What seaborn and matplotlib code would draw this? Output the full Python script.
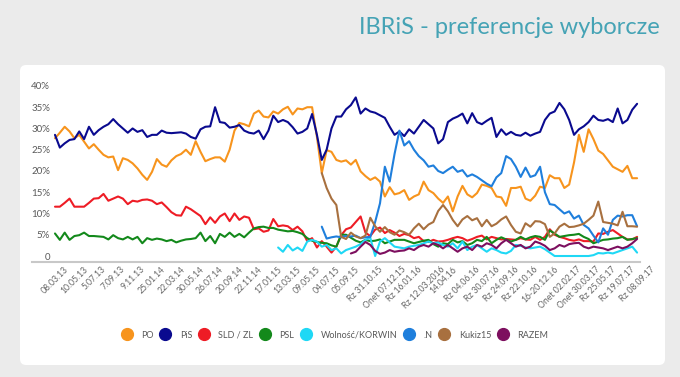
import numpy as np
import pandas as pd
import seaborn as sns
import matplotlib.pyplot as plt
from matplotlib.patches import FancyBboxPatch
from matplotlib.lines import Line2D

nan = np.nan

# tick labels, one every 4th poll
tick_labels = ['08.03.13', '10.05.13', '5.07.13', '7.09.13', '9.11.13', '25.01.14',
               '22.03.14', '30.05.14', '26.07.14', '20.09.14', '22.11.14', '17.01.15',
               '13.03.15', '09.05.15', '04.07.15', '05.09.15', 'Rz 31.10.15',
               'Onet 07.12.15', 'Rz 16.01.16', 'Rz 12.03.2016', '14.04.16',
               'Rz 04.06.16', 'Rz 30.07.16', 'Rz 24.09.16', 'Rz 22.10.16',
               '16-20.12.16', 'Onet 02.02.17', 'Onet 30.03.17', 'Rz 25.05.17',
               'Rz 19.07.17', 'Rz 08.09.17']

po = [27.7, 29, 30.4, 29.3, 27.7, 28.5, 26.9, 25.3, 26.3, 25, 23.8, 23.2, 23.4, 20.2, 23, 22.6, 21.8, 20.6, 19.1, 17.9,
      19.8, 22.8, 21.5, 21, 22.5, 23.5, 24, 25, 23.8, 27, 24.5, 22.3, 22.8, 23.2, 23.2, 22.2, 25, 29.5, 31.3, 31,
      30.5, 33.5, 34.2, 32.8, 32.6, 34, 33.5, 34.5, 35.1, 33.3, 34.7, 34.5, 35, 35, 28, 19.5, 24.9, 24.5, 22.6, 22.2,
      22.5, 21.5, 22.6, 19.9, 18.8, 17.9, 18.5, 17.5, 14, 16.2, 14.5, 14.8, 15.5, 13.2, 14, 14.5, 17.5, 15.5, 14.8, 13.5,
      12.5, 14, 10.5, 14, 16.5, 14.5, 13.8, 14.8, 16.8, 16.5, 16, 14, 13.8, 11.8, 16, 16, 16.3, 13.5, 13, 14.2,
      16.3, 16, 19, 18.3, 18.3, 16, 16.8, 22, 28.5, 24.5, 29.8, 27.5, 24.8, 24, 22.5, 21, 20.4, 19.8, 21.2, 18.3, 18.3]

pis = [28.5, 25.5, 26.5, 27.3, 27.5, 29.3, 27.5, 30.4, 28.5, 29.6, 30.4, 31, 32.2, 31, 30, 29, 30, 29.2, 29.6, 28,
       28.5, 28.5, 29.5, 29, 28.9, 29, 29.1, 28.8, 28, 27.6, 29.8, 30.4, 30.5, 35, 31.5, 31.3, 30.2, 30.4, 30.8, 29.5,
       29, 28.8, 29.5, 27.5, 29.5, 33, 31.5, 32, 31.5, 30.3, 28.8, 29.2, 30, 33.4, 28.5, 22.6, 25, 30, 32.8, 32.8,
       34.5, 35.5, 37.3, 33.5, 34.7, 34, 33.7, 33.1, 32.5, 30.4, 28.5, 29.3, 28.2, 29.8, 28.8, 30.4, 32, 31, 30, 26.5,
       27.5, 31.5, 32.3, 32.8, 33.5, 31.2, 33.6, 31.5, 31, 31.8, 32.5, 28, 29.8, 28.5, 29.2, 28.5, 28.3, 29, 28.3, 28.8,
       29.2, 32, 33.5, 34, 36, 34.5, 32, 28.5, 29.8, 30.5, 31.5, 33, 32, 31.8, 32.2, 31.5, 34.7, 31.2, 32, 34.4, 35.8]

sld = [11.6, 11.6, 12.5, 13.5, 11.6, 11.6, 11.6, 12.5, 13.5, 13.6, 14.6, 13, 13.5, 14, 13.5, 12.2, 13, 12.8, 13.2, 13.3,
       13, 12.2, 12.6, 11.5, 10.3, 9.6, 9.5, 11.6, 11, 10.2, 9.4, 7.5, 9.1, 7.8, 9.3, 10, 8.2, 10, 8.5, 9.3,
       9, 6.3, 6.5, 5.7, 6, 8.7, 7, 7.2, 7, 6.1, 6.9, 5.8, 3.5, 4.2, 2, 3.5, 2.2, 0.8, 2.2, 4.9,
       6.3, 6.7, 8, 9.3, 5.5, 4.7, 6.2, 6.7, 5.4, 6.1, 5.5, 4.7, 5.2, 4.9, 4.2, 4.5, 3.5, 3.3, 3.8, 3.4,
       3.5, 3.8, 4.2, 4.5, 4.2, 3.6, 4, 4.5, 4.8, 3.9, 4.5, 4.2, 3.9, 4, 3.9, 3.8, 4.2, 3.9, 3.8, 4.5,
       3.8, 4.5, 6.3, 5, 4.5, 4.2, 3.8, 3.6, 3.9, 3.5, 3.5, 3.4, 5.3, 5.2, 5.7, 6.1, 5.3, 4.5, 3.9, 3.9, 4.5]

psl = [5.3, 3.8, 5.5, 3.8, 4.7, 4.9, 5.5, 4.7, 4.7, 4.6, 4.5, 3.9, 4.9, 4.2, 3.9, 4.5, 3.9, 4.5, 3, 4.2,
       3.8, 4.1, 3.9, 3.5, 3.8, 3.2, 3.6, 3.9, 4, 4.2, 5.5, 3.5, 4.7, 3, 5.2, 4.5, 5.5, 4.5, 5.2, 4.4,
       5.5, 6.5, 6.8, 6.9, 6.6, 6.6, 6.2, 6, 5.8, 5.9, 5.6, 5.2, 4.2, 3.6, 3.3, 3.1, 3, 2.5, 2.2, 5,
       5, 4.3, 3.6, 3.2, 3.8, 3.5, 3.6, 3.9, 3, 3.4, 3.8, 3.8, 3.8, 3.4, 3, 3.3, 3.6, 3.8, 2.8, 2.2,
       3, 2.8, 3.8, 3.2, 3.5, 2.6, 3, 3.8, 3.5, 4.5, 3, 3.8, 4.4, 3.9, 3.4, 3.8, 4.5, 3.9, 4.4, 4.7,
       4.5, 3.8, 6, 5.3, 4.5, 4.7, 4.9, 5, 5.2, 4.5, 4, 3, 3.4, 3.8, 3.9, 4.1, 4.2, 4.5, 3.8, 4, 4.2]

korwin = [nan] * 46 + [
    2, 1, 2.6, 1.3, 2, 1.2, 3.4, 3.8, 3.4, 2.2, 2.6, 1.4, 1.8, 0.6,
    1.4, 1.8, 2.2, 2.8, 3.8, 4.3, 0, 3.4, 4.2, 3.2, 2.2, 2, 1.8, 2.2, 2.4, 2.6, 3, 3.4, 3, 3.2,
    2.6, 2.2, 3, 1.8, 3.4, 1.4, 2.2, 2.6, 1.8, 1, 1.8, 1.4, 0.8, 0.6, 1.2, 2.6, 2.4, 2, 1.8, 2,
    2.2, 1.6, 0.8, 0, 0, 0, 0, 0, 0, 0, 0, 0.2, 0.7, 0.6, 0.8, 0.6, 1, 1.4, 1.8, 2.2, 0.8]

nowoczesna = [nan] * 55 + [
    6.9, 4.1, 4.4, 4.6, 4.4,
    4.7, 4.6, 4.8, 4.2, 4.4, 4.5, 8, 12.4, 21, 17.5, 24, 29.5, 26, 27, 25, 23.5, 22.5, 21, 21.3, 20,
    19.5, 20.3, 21, 19.8, 20.2, 18.7, 19.2, 18.6, 17.8, 17, 16.4, 18.5, 19.5, 23.5, 22.8, 21, 18.6, 20.8, 18.6, 19,
    21, 15, 12.2, 12, 11, 10, 10.5, 8.8, 9.5, 7.3, 6.5, 4.8, 3.2, 6.5, 5, 8.5, 9.5, 9.3, 9.6, 9.6, 7]

kukiz = [nan] * 55 + [
    19.5, 16, 13.5, 12, 4.5,
    4, 5.5, 4.6, 4.2, 4.8, 9, 7, 5.7, 6.8, 5.6, 5, 6, 5.6, 5, 6.5, 7.6, 6.3, 7.4, 8, 10.6,
    12, 10.5, 8.5, 7, 8.6, 9.4, 8.4, 8.9, 7, 8.5, 7, 7.6, 8.6, 9.3, 7.3, 5.7, 5.3, 7.7, 6.9, 8.2,
    8.1, 7.5, 4.5, 5.3, 6.9, 7.6, 6.8, 6.9, 7.2, 7.6, 8.5, 9.5, 12.8, 8, 7.8, 7.6, 7.2, 10.4, 7, 7, 6.9]

razem = [nan] * 61 + [
    0.6, 1, 2.2, 3.3, 2.6, 1.2, 0.5, 0.8, 1.4, 1, 1.2, 1.3, 1.8, 1.4, 2.2, 2.6, 2.2, 3, 2.6,
    1.8, 2.6, 1.8, 1, 1.8, 2.2, 1.4, 2.6, 2.2, 3, 2.6, 1.8, 3, 3.8, 3, 2.2, 2.6, 1.8, 2.2, 3.4,
    3, 2.4, 1.4, 1.8, 2.6, 2.2, 2.8, 3, 3.1, 2.2, 1.8, 2.2, 2, 1.8, 1.4, 1.8, 2.2, 1.8, 2.2, 3, 4]

parties = ['PO', 'PiS', 'SLD / ZL', 'PSL', 'Wolność/KORWIN', '.N', 'Kukiz15', 'RAZEM']
colors = ['#f7941d', '#0a0a8f', '#ee1c25', '#13891b', '#1fd8f5', '#1f7fdc', '#a8703f', '#7d0f5f']

df = pd.DataFrame({'poll': range(len(po)), 'PO': po, 'PiS': pis, 'SLD / ZL': sld, 'PSL': psl,
                   'Wolność/KORWIN': korwin, '.N': nowoczesna, 'Kukiz15': kukiz, 'RAZEM': razem})
long_df = df.melt(id_vars='poll', var_name='party', value_name='pct').dropna()

sns.set_theme(style='white')
plt.rcParams['font.family'] = ['Lato', 'DejaVu Sans']

fig = plt.figure(figsize=(6.8, 3.77), dpi=100)
fig.patch.set_facecolor('#ebebeb')

# white card behind the chart
card = FancyBboxPatch((20 / 680, 12 / 377), 645 / 680, 300 / 377,
                      boxstyle='round,pad=0,rounding_size=0.009', mutation_aspect=680 / 377,
                      transform=fig.transFigure, facecolor='white', edgecolor='none', zorder=-5)
fig.patches.append(card)

fig.text(660 / 680, 1 - 28 / 377, 'IBRiS - preferencje wyborcze', ha='right', va='center',
         color='#45a3b5', fontsize=17)

ax = fig.add_axes([32 / 680, 115 / 377, 608 / 680, 182 / 377])
ax.set_zorder(2)
ax.set_facecolor('none')

sns.lineplot(data=long_df, x='poll', y='pct', hue='party', hue_order=parties,
             palette=dict(zip(parties, colors)), linewidth=1.5, legend=False, ax=ax)

ax.set_xlim(-4.74, 120.6)
ax.set_ylim(-1.41, 41.4)
for s in ['top', 'right', 'left']:
    ax.spines[s].set_visible(False)
ax.spines['bottom'].set_color('#c8c8c8')
ax.spines['bottom'].set_linewidth(1.5)

ax.set_yticks(range(0, 41, 5))
ax.set_yticklabels(['0'] + [f'{v}%' for v in range(5, 41, 5)])
ax.tick_params(axis='y', length=0, pad=-13, labelsize=7, labelcolor='#595959')
ax.set_xticks(range(0, 121, 4))
ax.set_xticklabels(tick_labels, rotation=45, ha='center', fontsize=6.2, color='#666666')
ax.tick_params(axis='x', length=0, pad=2)
ax.set_xlabel('')
ax.set_ylabel('')

handles = [Line2D([], [], marker='o', linestyle='', markersize=8.5,
                  markerfacecolor=c, markeredgecolor=c) for c in colors]
leg = fig.legend(handles, parties, loc='center', bbox_to_anchor=(0.493, 1 - 335 / 377), ncol=8,
                 frameon=False, fontsize=6.5, handletextpad=1.1, columnspacing=0.8,
                 handlelength=1, labelcolor='#595959')
leg.set_zorder(3)

fig.savefig('out.png', dpi=100)
